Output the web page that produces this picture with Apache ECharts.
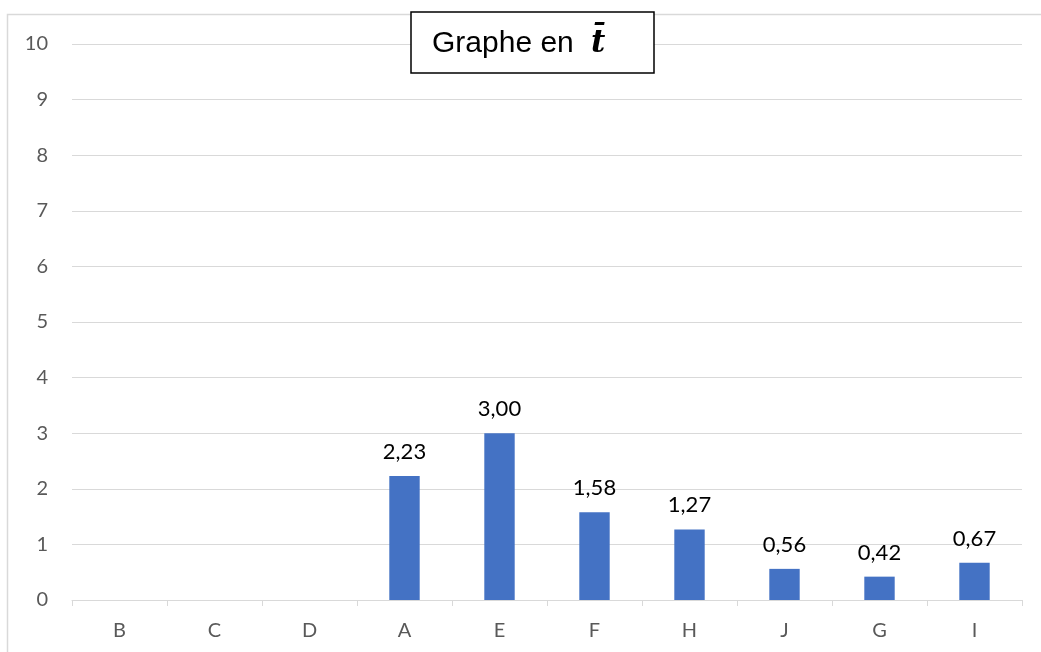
<!DOCTYPE html>
<html>
<head>
<meta charset="utf-8">
<script src="https://cdn.jsdelivr.net/npm/echarts@6/dist/echarts.min.js"></script>
<style>
  html, body { margin: 0; padding: 0; background: #ffffff; }
  #chart { width: 1041px; height: 652px; }
</style>
</head>
<body>
<div id="chart"></div>
<script>
// Categories along the x axis, in display order
const categories = ['B', 'C', 'D', 'A', 'E', 'F', 'H', 'J', 'G', 'I'];
// Mean t per category (no value for B, C, D)
const meanT = [null, null, null, 2.23, 3.00, 1.58, 1.27, 0.56, 0.42, 0.67];
// Y axis range
const yMin = 0;
const yMax = 10;
const yStep = 1;

const chart = echarts.init(document.getElementById('chart'), null, { renderer: 'canvas' });

const gridColor = '#d9d9d9';
const labelColor = '#595959';
const uiFont = 'Lato, "Open Sans", sans-serif';

chart.setOption({
  animation: false,
  backgroundColor: '#ffffff',
  grid: { left: 72, right: 19, top: 44, bottom: 52, containLabel: false },
  xAxis: {
    type: 'category',
    data: categories,
    boundaryGap: true,
    axisLine: { show: true, lineStyle: { color: gridColor, width: 1 } },
    axisTick: { show: true, alignWithLabel: false, length: 6, lineStyle: { color: gridColor } },
    axisLabel: { color: labelColor, fontSize: 20, fontFamily: uiFont, margin: 21 }
  },
  yAxis: {
    type: 'value',
    min: yMin,
    max: yMax,
    interval: yStep,
    axisLine: { show: false },
    axisTick: { show: false },
    splitLine: { show: true, lineStyle: { color: gridColor, width: 1 } },
    axisLabel: { color: labelColor, fontSize: 20, fontFamily: uiFont, margin: 24 }
  },
  series: [{
    type: 'bar',
    data: meanT,
    barWidth: '32%',
    itemStyle: { color: '#4472c4' },
    label: {
      show: true,
      position: 'top',
      distance: 13,
      color: '#000000',
      fontSize: 22,
      fontFamily: uiFont,
      formatter: p => (p.value == null ? '' : p.value.toFixed(2).replace('.', ','))
    }
  }],
  graphic: [
    {
      type: 'rect',
      z: 0,
      silent: true,
      shape: { x: 7.5, y: 14.5, width: 1100, height: 700 },
      style: { fill: null, stroke: gridColor, lineWidth: 1.5 }
    },
    {
      type: 'rect',
      z: 100,
      silent: true,
      x: 411,
      y: 12,
      shape: { x: 0, y: 0, width: 243, height: 61 },
      style: { fill: '#ffffff', stroke: '#000000', lineWidth: 1.5 }
    },
    {
      type: 'text',
      z: 101,
      silent: true,
      x: 432,
      y: 44,
      style: {
        text: 'Graphe en',
        fontSize: 30,
        fontFamily: '"Liberation Sans", Arial, sans-serif',
        fill: '#000000',
        verticalAlign: 'middle',
        align: 'left'
      }
    },
    {
      type: 'text',
      z: 101,
      silent: true,
      x: 591,
      y: 44,
      style: {
        text: 't\u0304',
        fontSize: 31,
        fontFamily: '"DejaVu Serif", "Liberation Serif", serif',
        fontWeight: 'bold',
        fontStyle: 'italic',
        fill: '#000000',
        verticalAlign: 'middle',
        align: 'left'
      }
    }
  ]
});
</script>
</body>
</html>
